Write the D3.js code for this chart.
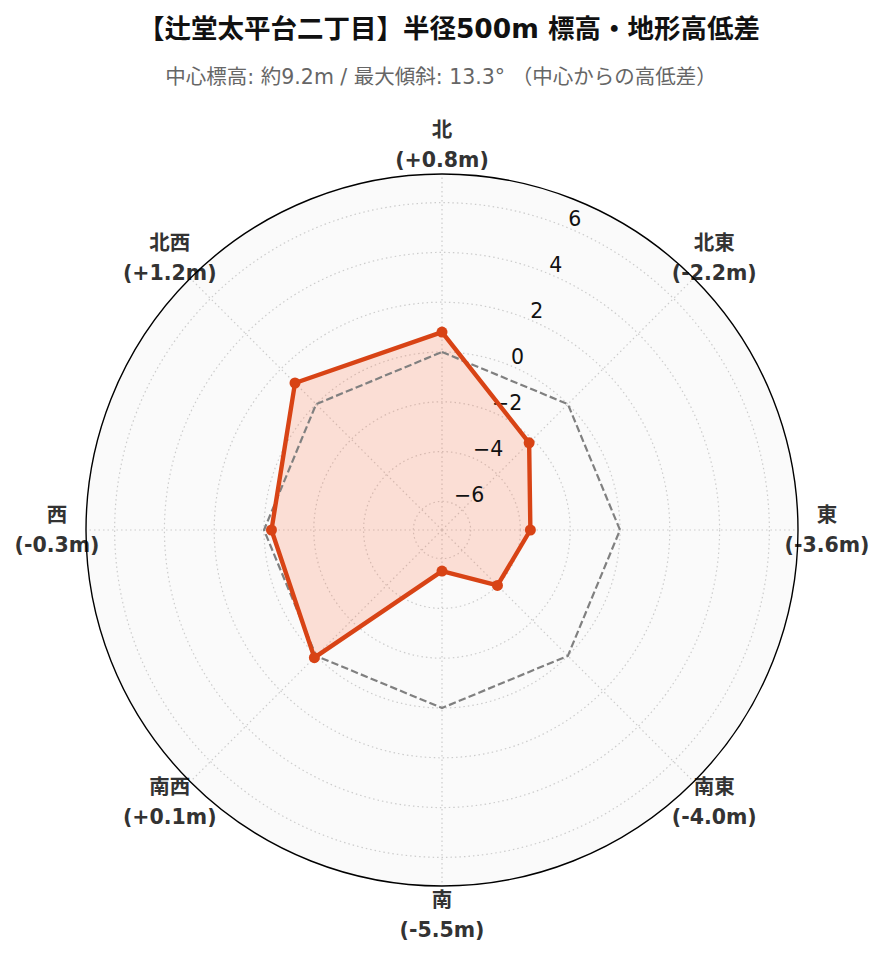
<!DOCTYPE html>
<html><head><meta charset="utf-8">
<script src="https://cdn.jsdelivr.net/npm/d3@7"></script>
<style>
html,body{margin:0;padding:0;background:#fff;}
svg{display:block;}
</style></head>
<body>
<script>
const directions = ["北","北東","東","南東","南","南西","西","北西"];
const values = [0.8, -2.2, -3.6, -4.0, -5.5, 0.1, -0.3, 1.2];
const valueLabels = ["(+0.8m)","(-2.2m)","(-3.6m)","(-4.0m)","(-5.5m)","(+0.1m)","(-0.3m)","(+1.2m)"];
const radialTicks = [-6,-4,-2,0,2,4,6];
const radialDomain = [-7.15, 7.15];
const titleText = "【辻堂太平台二丁目】半径500m 標高・地形高低差";
const subtitleText = "中心標高: 約9.2m / 最大傾斜: 13.3° （中心からの高低差）";

const W = 885, H = 962;
const cx = 442, cy = 530, R = 356;
const FONT = "'DejaVu Sans','Noto Sans CJK JP',sans-serif";

const svg = d3.select("body").append("svg").attr("width", W).attr("height", H);

svg.append("text").attr("x", 449).attr("y", 28)
  .attr("text-anchor","middle").attr("dominant-baseline","central")
  .style("font-family", FONT).style("font-weight","bold").style("font-size","26.5px")
  .attr("fill","#111").text(titleText);
svg.append("text").attr("x", 441).attr("y", 77)
  .attr("text-anchor","middle").attr("dominant-baseline","central")
  .style("font-family", FONT).style("font-size","20.5px")
  .attr("fill","#666").text(subtitleText);

const r = d3.scaleLinear().domain(radialDomain).range([0, R]);
const angle = d3.scalePoint().domain(directions).range([0, 2*Math.PI*(7/8)]);
const pt = (a, rad) => [cx + rad*Math.sin(a), cy - rad*Math.cos(a)];

const g = svg.append("g");
g.append("circle").attr("cx",cx).attr("cy",cy).attr("r",R).attr("fill","#fafafa");

// grid circles
g.selectAll(".gc").data(radialTicks).join("circle")
  .attr("cx",cx).attr("cy",cy).attr("r",d=>r(d))
  .attr("fill","none").attr("stroke","#cccccc").attr("stroke-width",1.2)
  .attr("stroke-dasharray","1.5,3");
// spokes
g.selectAll(".sp").data(directions).join("line")
  .attr("x1",cx).attr("y1",cy)
  .attr("x2",d=>pt(angle(d),R)[0]).attr("y2",d=>pt(angle(d),R)[1])
  .attr("stroke","#cccccc").attr("stroke-width",1.2).attr("stroke-dasharray","1.5,3");

// category labels
const lab = g.selectAll(".lab").data(directions).join("text")
  .attr("text-anchor","middle")
  .style("font-family", FONT).style("font-weight","bold").style("font-size","20.5px")
  .attr("fill","#333");
lab.each(function(d,i){
  const [x,y] = pt(angle(d), 385);
  const t = d3.select(this);
  t.append("tspan").attr("x",x).attr("y",y-15).attr("dominant-baseline","central").text(d);
  t.append("tspan").attr("x",x).attr("y",y+15).attr("dominant-baseline","central").text(valueLabels[i]);
});

// outer border
g.append("circle").attr("cx",cx).attr("cy",cy).attr("r",R)
  .attr("fill","none").attr("stroke","#000").attr("stroke-width",1.4);

const closedLine = d3.lineRadial().angle((d,i)=>angle(directions[i])).radius(d=>r(d)).curve(d3.curveLinearClosed);

const plot = g.append("g").attr("transform",`translate(${cx},${cy})`);
// fill
plot.append("path").datum(values).attr("d",closedLine)
  .attr("fill","#ff7043").attr("fill-opacity",0.2).attr("stroke","none");

// tick labels
const tickAngle = Math.PI/8;
g.selectAll(".tl").data(radialTicks).join("text")
  .attr("x",d=>pt(tickAngle, r(d))[0]+1)
  .attr("y",d=>pt(tickAngle, r(d))[1]-9)
  .attr("text-anchor","start").attr("dominant-baseline","central")
  .style("font-family", FONT).style("font-size","20.5px").attr("fill","#111")
  .text(d=> d<0 ? "\u2212"+Math.abs(d) : String(d));

const plot2 = g.append("g").attr("transform",`translate(${cx},${cy})`);
// zero reference
plot2.append("path").datum(directions.map(()=>0)).attr("d",closedLine)
  .attr("fill","none").attr("stroke","#808080").attr("stroke-width",2.2)
  .attr("stroke-dasharray","7.4,3.2");
// data line
plot2.append("path").datum(values).attr("d",closedLine)
  .attr("fill","none").attr("stroke","#d84315").attr("stroke-width",4.4).attr("stroke-linejoin","round");
plot2.selectAll(".dot").data(values).join("circle")
  .attr("cx",(d,i)=>r(d)*Math.sin(angle(directions[i])))
  .attr("cy",(d,i)=>-r(d)*Math.cos(angle(directions[i])))
  .attr("r",5.5).attr("fill","#d84315");
</script>
</body></html>
